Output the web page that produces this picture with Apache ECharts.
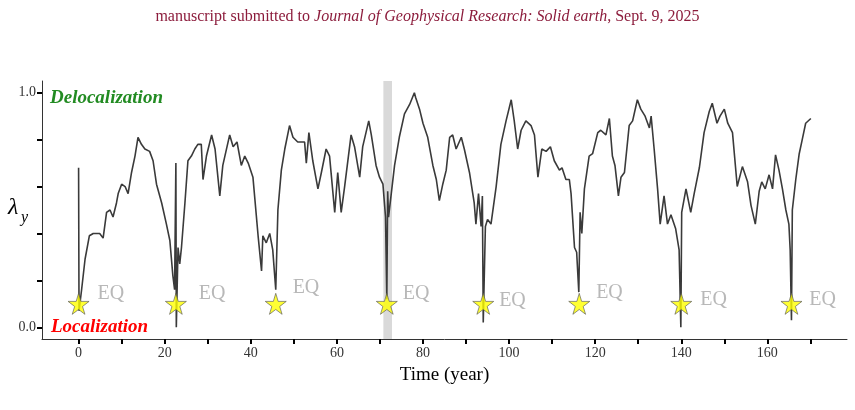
<!DOCTYPE html>
<html>
<head>
<meta charset="utf-8">
<script src="https://cdn.jsdelivr.net/npm/echarts@6/dist/echarts.min.js"></script>
<style>
  html, body { margin: 0; padding: 0; background: #fff; }
  #chart { width: 855px; height: 410px; }
</style>
</head>
<body>
<div id="chart"></div>
<script>
// time (year) and lambda_y
const timeYears = [
  0, 0.1, 0.7, 1.5, 2.5, 3.4, 4.9, 5.7, 6.5, 7.3, 8.0, 8.8, 9.2, 10.0, 10.8, 11.5, 12.3, 13.1, 13.8, 14.6,
  15.4, 16.5, 17.3, 18.1, 19.3, 20.4, 21.2, 21.9, 22.3, 22.6, 22.7, 23.1, 23.5, 23.9, 24.7, 25.4, 26.2, 27.0, 27.7, 28.5,
  28.9, 29.7, 30.9, 31.7, 32.8, 33.5, 35.1, 35.9, 36.8, 37.8, 38.6, 39.4, 40.5, 41.7, 42.5, 42.8, 43.6, 44.4, 45.1, 45.8,
  46.3, 47.1, 47.9, 49.0, 49.8, 50.9, 52.5, 52.9, 53.5, 54.4, 55.6, 56.4, 57.5, 58.3, 59.5, 60.2, 61.0, 61.8, 63.3, 64.1,
  65.3, 66.0, 67.4, 68.0, 69.1, 69.9, 70.7, 71.3, 71.6, 71.8, 72.0, 73.4, 74.5, 75.7, 76.9, 78.0, 78.3, 79.2, 80.0, 81.1,
  82.3, 83.1, 83.8, 84.6, 85.4, 86.2, 86.9, 87.7, 88.9, 89.6, 90.8, 91.9, 92.3, 92.9, 93.5, 93.8, 94.0, 94.5, 95.0, 95.8,
  97.0, 98.1, 99.3, 100.5, 101.2, 102.0, 102.8, 103.9, 105.1, 105.9, 106.7, 107.6, 108.6, 109.6, 110.5, 111.7, 112.3, 113.2, 114.0, 114.4,
  115.2, 115.7, 116.2, 116.5, 116.9, 117.5, 118.6, 119.4, 120.6, 121.3, 122.5, 123.3, 124.0, 124.6, 125.4, 126.0, 126.8, 127.9, 128.7, 129.8,
  130.6, 131.6, 132.6, 133.0, 133.7, 134.5, 135.1, 136.0, 136.8, 137.6, 138.7, 139.5, 139.9, 140.1, 141.1, 142.2, 143.0, 144.2, 145.3, 146.5,
  147.2, 148.3, 149.0, 150.0, 150.8, 151.9, 153.0, 154.2, 155.4, 156.2, 157.2, 158.1, 158.7, 159.5, 160.4, 161.2, 161.9, 162.7, 163.5, 164.3,
  165.0, 165.3, 165.6, 165.8, 166.6, 167.4, 168.1, 168.9, 170.1
];
const lambdaY = [
  0.68, 0.07, 0.16, 0.29, 0.39, 0.40, 0.40, 0.38, 0.49, 0.50, 0.47, 0.53, 0.57, 0.61, 0.60, 0.57, 0.66, 0.73, 0.81, 0.78,
  0.76, 0.75, 0.71, 0.61, 0.53, 0.44, 0.37, 0.22, 0.16, 0.70, 0.00, 0.34, 0.27, 0.34, 0.53, 0.71, 0.73, 0.76, 0.78, 0.78,
  0.63, 0.73, 0.82, 0.76, 0.56, 0.69, 0.82, 0.77, 0.79, 0.69, 0.73, 0.70, 0.64, 0.39, 0.24, 0.39, 0.36, 0.40, 0.33, 0.16,
  0.50, 0.67, 0.76, 0.86, 0.81, 0.79, 0.79, 0.70, 0.83, 0.71, 0.59, 0.66, 0.76, 0.73, 0.49, 0.66, 0.49, 0.60, 0.82, 0.77,
  0.64, 0.77, 0.88, 0.82, 0.69, 0.64, 0.61, 0.47, 0.12, 0.58, 0.47, 0.69, 0.81, 0.91, 0.95, 1.00, 0.98, 0.93, 0.87, 0.81,
  0.69, 0.63, 0.54, 0.61, 0.67, 0.81, 0.82, 0.76, 0.81, 0.76, 0.66, 0.53, 0.44, 0.57, 0.43, 0.56, 0.02, 0.43, 0.46, 0.44,
  0.60, 0.78, 0.88, 0.97, 0.88, 0.76, 0.84, 0.88, 0.86, 0.82, 0.64, 0.76, 0.75, 0.77, 0.71, 0.67, 0.68, 0.63, 0.63, 0.57,
  0.34, 0.32, 0.15, 0.49, 0.40, 0.59, 0.73, 0.74, 0.83, 0.84, 0.82, 0.89, 0.73, 0.69, 0.56, 0.64, 0.66, 0.86, 0.88, 0.97,
  0.93, 0.90, 0.85, 0.90, 0.76, 0.59, 0.44, 0.56, 0.44, 0.48, 0.42, 0.33, 0.00, 0.49, 0.59, 0.49, 0.57, 0.68, 0.83, 0.92,
  0.955, 0.87, 0.90, 0.93, 0.87, 0.83, 0.60, 0.685, 0.62, 0.52, 0.44, 0.58, 0.62, 0.59, 0.65, 0.59, 0.735, 0.67, 0.59, 0.50,
  0.44, 0.33, 0.03, 0.50, 0.63, 0.74, 0.80, 0.87, 0.89
];

// earthquakes
const eqTimes = [0, 22.6, 45.8, 71.6, 94.0, 116.3, 140.0, 165.6];
const eqLevel = 0.1;
const eqLabel = 'EQ';
// highlighted window
const bandRange = [70.8, 72.8];

const xTicks = [0, 10, 20, 30, 40, 50, 60, 70, 80, 90, 100, 110, 120, 130, 140, 150, 160, 170];
const xLabels = [0, 20, 40, 60, 80, 100, 120, 140, 160];
const yTicks = [0, 0.2, 0.4, 0.6, 0.8, 1.0];
const yLabels = [0, 1];

// small repel-like nudges for the EQ texts (px)
const eqNudge = [[13, -10], [17, -10], [11, -16], [10, -10], [10, -3], [11, -11], [13, -4], [12, -4]];

const serif = '"Liberation Serif", "DejaVu Serif", serif';
const starPath = 'path://M50,0 L61,35 L98,35 L68,57 L79,91 L50,70 L21,91 L32,57 L2,35 L39,35 Z';

const chart = echarts.init(document.getElementById('chart'));
const option = {
    backgroundColor: '#fff',
    animation: false,
    title: {
        left: 'center', top: 4,
        text: '{a|manuscript submitted to }{b|Journal of Geophysical Research: Solid earth}{a|, Sept. 9, 2025}',
        textStyle: {
            rich: {
                a: {fontFamily: serif, fontSize: 16, fontWeight: 'normal', color: '#8c1c3c'},
                b: {fontFamily: serif, fontSize: 16, fontWeight: 'normal', color: '#8c1c3c', fontStyle: 'italic'}
            }
        }
    },
    grid: {left: 42, right: 8, top: 81, bottom: 71},
    xAxis: {
        type: 'value', min: -8.5, max: 178.5,
        name: 'Time (year)', nameLocation: 'middle', nameGap: 27,
        nameTextStyle: {fontFamily: serif, fontSize: 19, color: '#000'},
        axisLine: {onZero: false, lineStyle: {color: '#333', width: 1}},
        axisTick: {show: true, length: 5, lineStyle: {color: '#000', width: 2}, customValues: xTicks},
        axisLabel: {fontFamily: serif, fontSize: 14, color: '#333', margin: 7, customValues: xLabels},
        splitLine: {show: false}
    },
    yAxis: {
        type: 'value', min: -0.05, max: 1.05,
        axisLine: {show: true, onZero: false, lineStyle: {color: '#333', width: 1}},
        axisTick: {show: true, length: 5, lineStyle: {color: '#000', width: 2}, customValues: yTicks},
        axisLabel: {fontFamily: serif, fontSize: 14, color: '#333', margin: 6, customValues: yLabels,
            formatter: v => v.toFixed(1)},
        splitLine: {show: false}
    },
    graphic: [
        {type: 'text', left: 8, top: 196, style: {text: 'λ', font: 'italic 24px ' + serif, fill: '#000'}},
        {type: 'text', left: 21, top: 210, style: {text: 'y', font: 'italic 16px ' + serif, fill: '#000'}},
        {type: 'text', left: 50, top: 89, style: {text: 'Delocalization', font: 'italic bold 19px ' + serif, fill: '#228b22'}},
        {type: 'text', left: 51, top: 318, style: {text: 'Localization', font: 'italic bold 19px ' + serif, fill: '#ff0000'}}
    ],
    series: [
        {
            type: 'line', data: [], z: 1, silent: true,
            markArea: {
                silent: true,
                itemStyle: {color: '#d9d9d9'},
                data: [[{xAxis: bandRange[0]}, {xAxis: bandRange[1]}]]
            }
        },
        {
            type: 'line', z: 3, symbol: 'none',
            lineStyle: {color: '#3a3a3a', width: 1.6},
            data: timeYears.map((t, i) => [t, lambdaY[i]])
        },
        {
            type: 'scatter', z: 5, symbol: starPath, symbolSize: 21,
            itemStyle: {color: '#ffff00', borderColor: '#555', borderWidth: 0.8},
            data: eqTimes.map((t, i) => ({
                value: [t, eqLevel],
                label: {
                    show: true, position: 'right', formatter: eqLabel,
                    offset: [eqNudge[i][0] - 10, eqNudge[i][1]],
                    fontFamily: serif, fontSize: 20, color: '#a6a6a6'
                }
            }))
        }
    ]
};
chart.setOption(option);
</script>
</body>
</html>
